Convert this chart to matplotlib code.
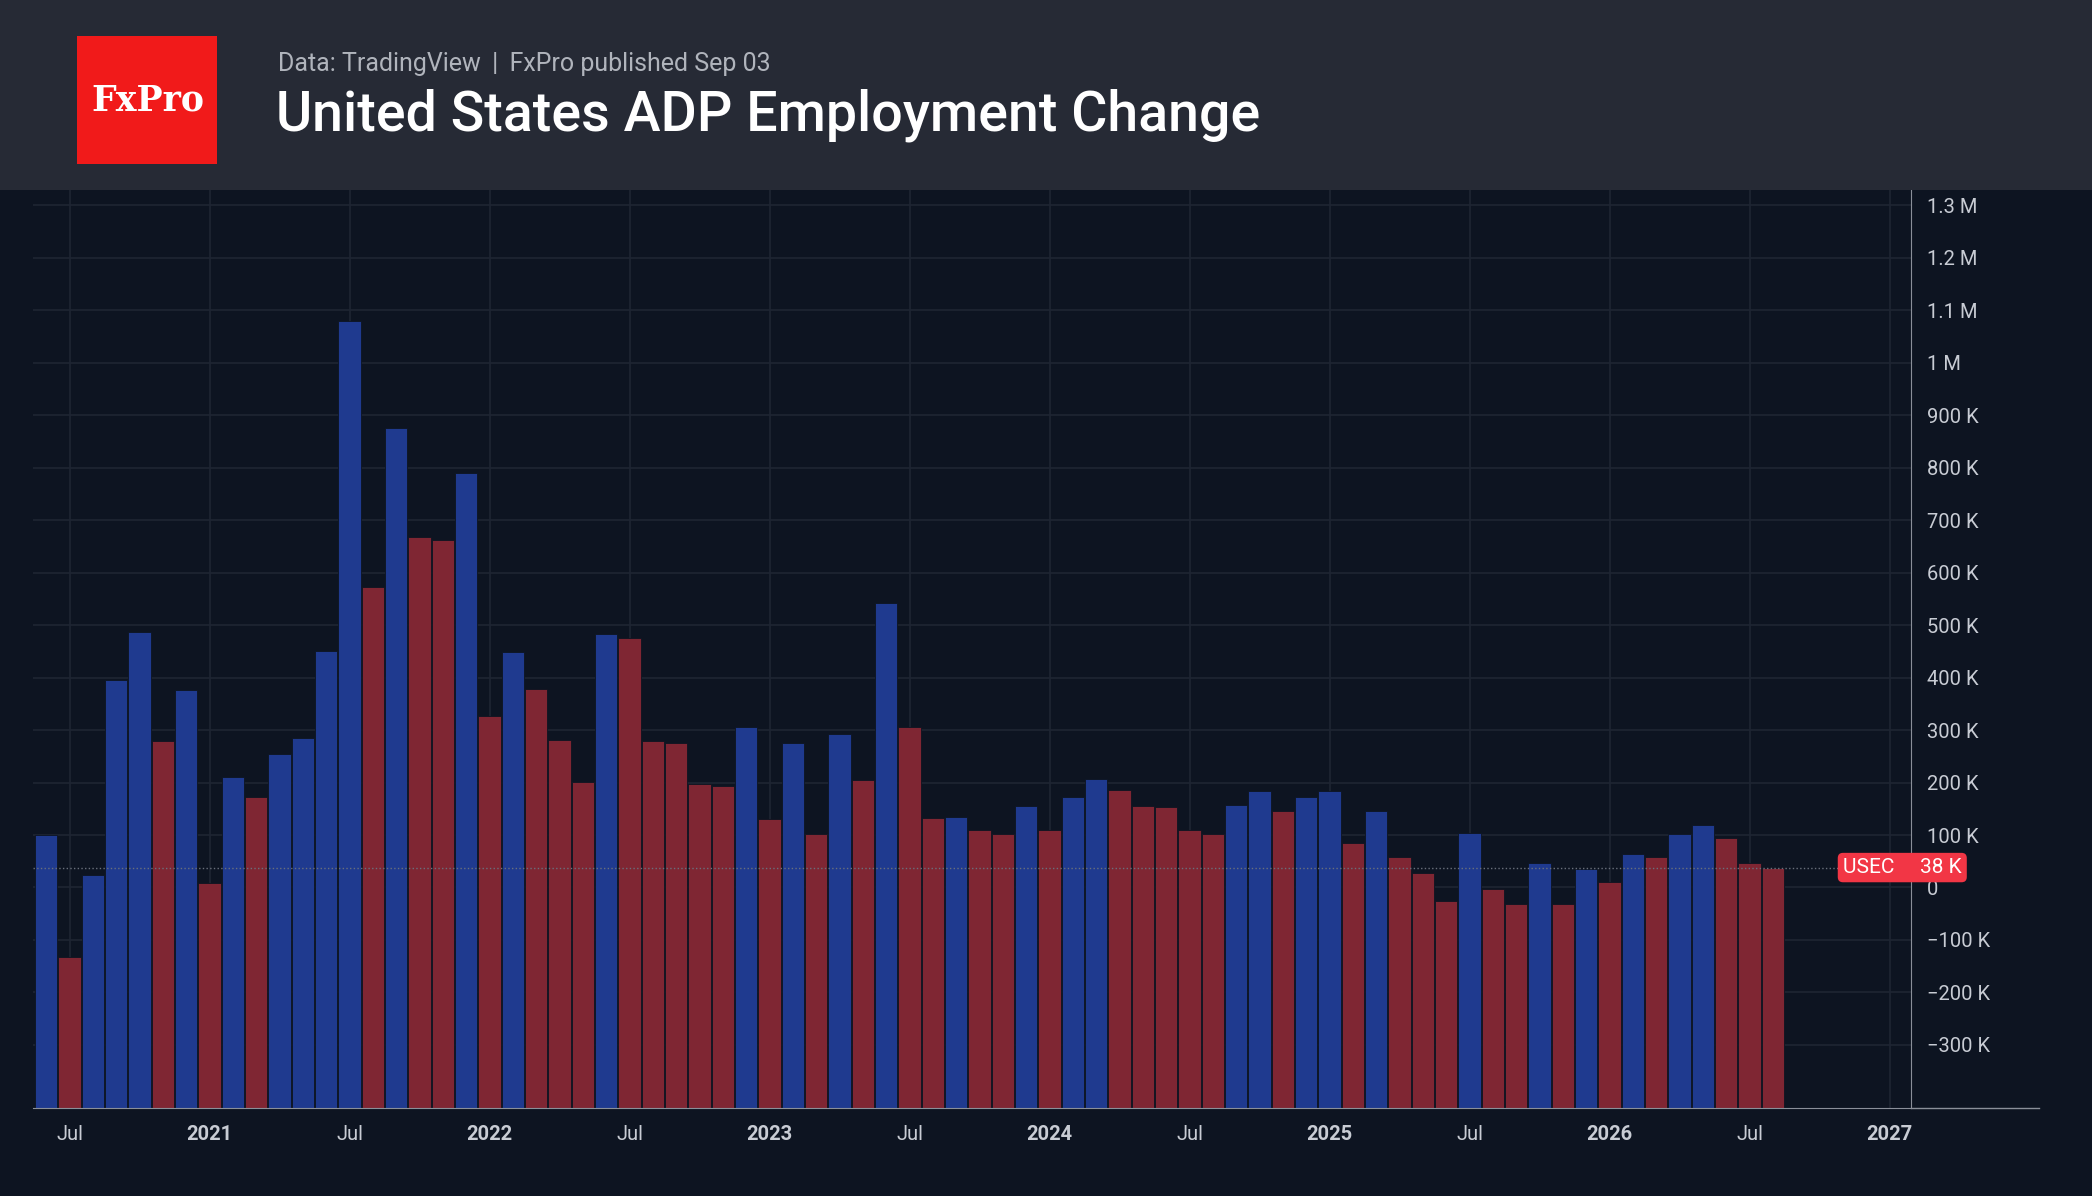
import numpy as np
import matplotlib.pyplot as plt
from matplotlib.patches import Rectangle

# ADP monthly change (thousands), first bar = Jun 2020
values = [100, -132, 23, 395, 486, 280, 377, 8, 211, 173, 254, 285, 450, 1079,
          573, 875, 667, 662, 789, 326, 448, 379, 282, 201, 483, 476, 280, 275,
          198, 193, 305, 130, 275, 102, 293, 204, 542, 305, 132, 135, 109, 102,
          155, 109, 173, 206, 186, 155, 153, 109, 102, 158, 183, 145, 173, 183,
          84, 145, 58, 28, -25, 104, -3, -31, 46, -31, 36, 10, 64, 58, 102, 120,
          94, 46, 38]
first_month = -7  # months relative to Jan 2021
tick_months = [-6, 0, 6, 12, 18, 24, 30, 36, 42, 48, 54, 60, 66, 72]
tick_labels = ["Jul", "2021", "Jul", "2022", "Jul", "2023", "Jul", "2024", "Jul",
               "2025", "Jul", "2026", "Jul", "2027"]
y_ticks = list(range(-300, 1400, 100))
y_labels = ["\u2212300 K", "\u2212200 K", "\u2212100 K", "0", "100 K", "200 K", "300 K",
            "400 K", "500 K", "600 K", "700 K", "800 K", "900 K", "1 M", "1.1 M",
            "1.2 M", "1.3 M"]

plt.rcParams['font.family'] = ['Roboto', 'DejaVu Sans']
W, H = 1568, 896
fig = plt.figure(figsize=(20.92, 11.96), dpi=100)
fig.patch.set_facecolor('#0d1421')
fig.patches.append(Rectangle((0, 1 - 142 / H), 1, 142 / H, transform=fig.transFigure,
                             facecolor='#262a35', edgecolor='none', zorder=0))
fig.patches.append(Rectangle((58 / W, 1 - 123 / H), 105 / W, 96 / H, transform=fig.transFigure,
                             facecolor='#f11a1a', edgecolor='none', zorder=1))
fig.text(111 / W, 1 - 75 / H, "FxPro", color='white', fontsize=25, family='DejaVu Serif',
         fontweight='bold', ha='center', va='center')
fig.text(208 / W, 1 - 48 / H, "Data: TradingView \u2009|\u2009 FxPro published Sep 03",
         color='#b0b4bc', fontsize=18, va='center')
fig.text(207 / W, 1 - 86 / H, "United States ADP Employment Change", color='white',
         fontsize=40, fontweight='medium', va='center')

ax = fig.add_axes([25 / W, 1 - 830 / H, (1432 - 25) / W, (830 - 142) / H])
ax.set_facecolor('#0d1421')
base = -420
x = np.arange(len(values)) + first_month
colors = ['#1f3a8f' if i == 0 or v > values[i - 1] else '#7f2633' for i, v in enumerate(values)]
ax.bar(x, np.array(values) - base, bottom=base, width=0.95, color=colors,
       edgecolor='#0d1421', linewidth=0.6, zorder=2)
ax.set_xlim(-7.55, 72.9)
ax.set_ylim(base, 1330)
ax.set_xticks(tick_months)
ax.set_xticklabels(tick_labels)
for t in ax.get_xticklabels():
    if t.get_text() != "Jul":
        t.set_fontweight('bold')
ax.set_yticks(y_ticks)
ax.set_yticklabels(y_labels)
for t in ax.get_yticklabels():
    if t.get_text() in ("1 M", "500 K"):
        t.set_fontweight('bold')
ax.yaxis.tick_right()
ax.tick_params(colors='#c8ccd4', labelsize=14.5, length=0, pad=12)
ax.grid(True, color='#1e2533', linewidth=1.2, zorder=0)
for s in ['top', 'left']:
    ax.spines[s].set_visible(False)
ax.spines['right'].set_color('#8a8f99')
ax.spines['bottom'].set_color('#8a8f99')
ax.axhline(values[-1], color='#6a707c', linestyle=':', linewidth=1, zorder=3)
ax.text(0.964, values[-1], "USEC     38 K", transform=ax.get_yaxis_transform(),
        color='white', fontsize=15, va='center', ha='left',
        bbox=dict(boxstyle='round,pad=0.25', facecolor='#f23645', edgecolor='none'),
        zorder=5, clip_on=False)
fig.add_artist(plt.Line2D([1432 / W, 1528 / W], [1 - 830 / H] * 2, color='#8a8f99',
                          linewidth=1, transform=fig.transFigure))
fig.savefig('out.png', dpi=100, facecolor=fig.get_facecolor())
